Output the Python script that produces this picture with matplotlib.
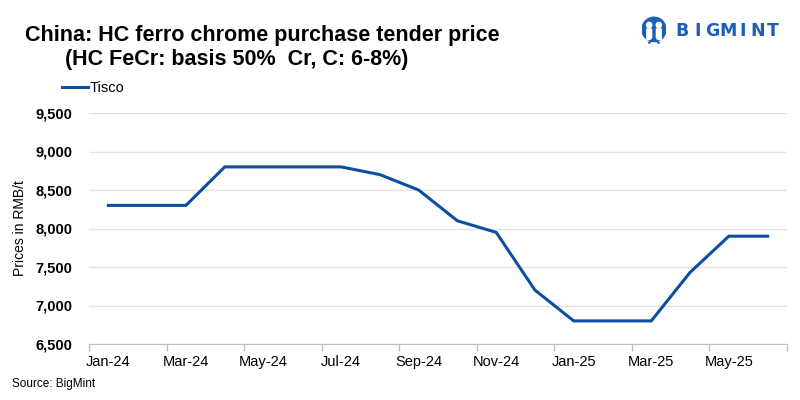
import matplotlib
matplotlib.use("Agg")
import matplotlib.pyplot as plt
from matplotlib.patches import Circle, FancyBboxPatch

months = ["Jan-24", "Feb-24", "Mar-24", "Apr-24", "May-24", "Jun-24", "Jul-24", "Aug-24",
          "Sep-24", "Oct-24", "Nov-24", "Dec-24", "Jan-25", "Feb-25", "Mar-25", "Apr-25",
          "May-25", "Jun-25"]
tisco = [8300, 8300, 8300, 8800, 8800, 8800, 8800, 8700, 8500, 8100, 7950, 7200,
         6800, 6800, 6800, 7430, 7900, 7900]
yticks = [6500, 7000, 7500, 8000, 8500, 9000, 9500]

plt.rcParams['font.family'] = ['Liberation Sans', 'DejaVu Sans']

fig = plt.figure(figsize=(8, 4), dpi=100)
ax = fig.add_axes([89/800, 1-344/400, (787-89)/800, (344-113)/400])

x = list(range(len(months)))
line, = ax.plot(x, tisco, color='#0B4EA2', lw=2.2, solid_joinstyle='miter', label='Tisco')

ax.set_xlim(-0.5, len(months) - 0.5)
ax.set_ylim(6500, 9500)
ax.set_yticks(yticks)
ax.set_yticklabels([f"{v:,}" for v in yticks], fontweight='bold', fontsize=10.5)
ax.tick_params(axis='y', length=0, pad=12)
ax.grid(axis='y', color='#E3E3E3', lw=1)
ax.set_axisbelow(True)

ax.set_xticks([i - 0.5 for i in range(0, len(months) + 1, 2)])
ax.set_xticklabels([])
ax.tick_params(axis='x', which='major', length=5, color='#BFBFBF', width=1)
ax.set_xticks(x[::2], minor=True)
ax.set_xticklabels(months[::2], minor=True, fontsize=10.5)
ax.tick_params(axis='x', which='minor', length=0, pad=8)

for s in ['top', 'right', 'left']:
    ax.spines[s].set_visible(False)
ax.spines['bottom'].set_color('#BFBFBF')

fig.text(20/800, 1-228/400, "Prices in RMB/t", rotation=90, ha='center', va='center', fontsize=10)

fig.text(25/800, 1-35/400, "China: HC ferro chrome purchase tender price", fontsize=15.5,
         fontweight='bold', ha='left', va='center')
fig.text(65/800, 1-60/400, "(HC FeCr: basis 50%  Cr, C: 6-8%)", fontsize=15.5,
         fontweight='bold', ha='left', va='center')

fig.legend(handles=[line], loc='center left', bbox_to_anchor=(62/800, 1-88/400), frameon=False,
           fontsize=10.5, handlelength=1.75, handletextpad=0.15, borderaxespad=0,
           borderpad=0)

fig.text(12/800, 1-384/400, "Source: BigMint", fontsize=8.5, ha='left', va='center')

# logo
logo_x0, logo_dx = 682, 15.2
for i, ch in enumerate("BIGMINT"):
    fig.text((logo_x0 + i * logo_dx) / 800, 1 - 31/400, ch, fontsize=12.5, fontweight='heavy',
             family='DejaVu Sans', color='#1A5FB4', ha='center', va='center')
lax = fig.add_axes([642/800, 1-44/400, 24/800, 28/400])
lax.set_xlim(0, 1); lax.set_ylim(0, 1.15); lax.axis('off')
lax.add_patch(Circle((0.5, 0.6), 0.5, color='#1A5FB4'))
for cx in (0.3, 0.7):
    lax.add_patch(Circle((cx, 0.78), 0.11, color='white'))
    lax.add_patch(FancyBboxPatch((cx - 0.08, 0.2), 0.16, 0.4, boxstyle='round,pad=0.02', color='white'))
lax.plot([0.3, 0.5, 0.7], [0.05, 0.25, 0.05], color='#1A5FB4', lw=1.5)

fig.savefig("out.png", dpi=100, facecolor='white')
